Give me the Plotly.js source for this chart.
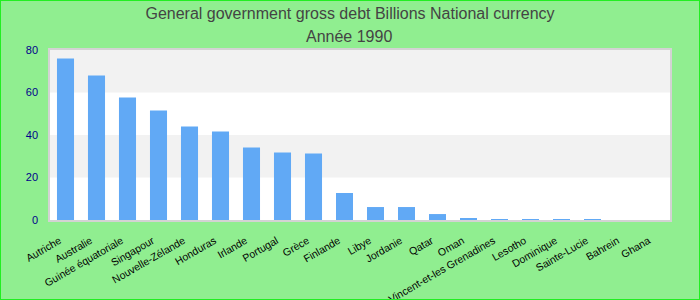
<!DOCTYPE html>
<html>
<head>
<meta charset="utf-8">
<script src="https://cdn.plot.ly/plotly-3.0.1.min.js"></script>
<style>
html,body{margin:0;padding:0;background:#90ee90;}
#chart{width:698px;height:298px;border:1px solid #22ee22;}
</style>
</head>
<body>
<div id="chart"></div>
<script>
const countries = ["Autriche","Australie","Guinée équatoriale","Singapour","Nouvelle-Zélande","Honduras","Irlande","Portugal","Grèce","Finlande","Libye","Jordanie","Qatar","Oman","Saint-Vincent-et-les Grenadines","Lesotho","Dominique","Sainte-Lucie","Bahrein","Ghana"];
const debt = [76.0, 68.0, 57.6, 51.5, 44.0, 41.6, 34.1, 31.8, 31.3, 12.7, 6.1, 6.1, 2.8, 0.9, 0.4, 0.4, 0.4, 0.4, 0, 0];
const yTicks = [0, 20, 40, 60, 80];
const bands = [[20, 40], [60, 80]];
const titleLine1 = 'General government gross debt Billions National currency';
const titleLine2 = 'Année 1990';

const shapes = bands.map(b => ({
  type: 'rect', xref: 'paper', yref: 'y', x0: 0, x1: 1, y0: b[0], y1: b[1],
  fillcolor: '#f2f2f2', line: {width: 0}, layer: 'below'
}));

const titleFont = {family: 'Liberation Sans, Arial, sans-serif', size: 16, color: '#444444'};

Plotly.newPlot('chart', [{
  type: 'bar',
  x: countries,
  y: debt,
  marker: {color: '#61a9f5'},
  hoverinfo: 'x+y'
}], {
  width: 698, height: 298,
  paper_bgcolor: '#90ee90',
  plot_bgcolor: '#ffffff',
  margin: {l: 49, r: 29, t: 49, b: 79},
  title: {
    text: titleLine1,
    font: titleFont,
    x: 0.5, xanchor: 'center', yref: 'container', y: 0.958, yanchor: 'middle'
  },
  annotations: [{
    text: titleLine2, font: titleFont, showarrow: false,
    xref: 'paper', yref: 'paper', x: 0.482, y: 1, xanchor: 'center', yanchor: 'middle', yshift: 14
  }],
  bargap: 0.45,
  shapes: shapes,
  xaxis: {
    tickangle: -30,
    tickfont: {family: 'Liberation Sans, Arial, sans-serif', size: 10.5, color: '#000000'},
    showline: true, mirror: true, linecolor: '#d3d3d3', linewidth: 1.5,
    showgrid: false, ticks: 'outside', ticklen: 9, tickcolor: 'rgba(0,0,0,0)', automargin: false,
    ticklabelshift: -6
  },
  yaxis: {
    range: [0, 80],
    tickvals: yTicks,
    tickfont: {family: 'Liberation Sans, Arial, sans-serif', size: 11, color: '#00008b'},
    showline: true, mirror: true, linecolor: '#d3d3d3', linewidth: 1.5,
    showgrid: false, zeroline: false,
    ticks: 'outside', ticklen: 8, tickcolor: 'rgba(0,0,0,0)', automargin: false
  },
  showlegend: false
}, {displayModeBar: false});
</script>
</body>
</html>
